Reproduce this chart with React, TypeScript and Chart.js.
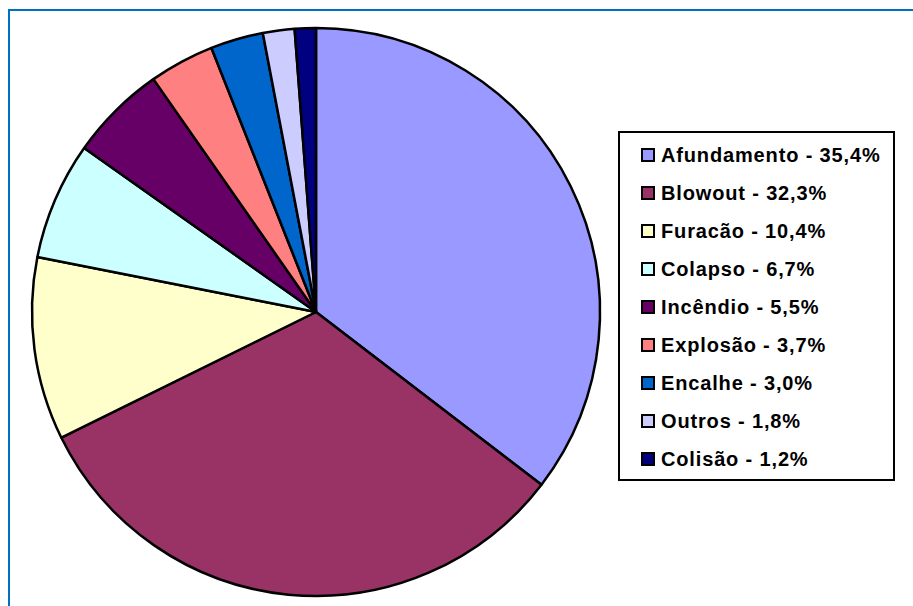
import React, { useEffect, useRef } from "react";
import { Chart, registerables } from "chart.js";

Chart.register(...registerables);

const categories = ["Afundamento", "Blowout", "Furacão", "Colapso", "Incêndio", "Explosão", "Encalhe", "Outros", "Colisão"];
const values = [35.4, 32.3, 10.4, 6.7, 5.5, 3.7, 3.0, 1.8, 1.2];
const colors = ["#9999FF", "#993366", "#FFFFCC", "#CCFFFF", "#660066", "#FF8080", "#0066CC", "#CCCCFF", "#000080"];

const fmt = (v: number) => v.toFixed(1).replace(".", ",") + "%";

export default function App() {
  const ref = useRef<HTMLCanvasElement | null>(null);

  useEffect(() => {
    if (!ref.current) return;
    const chart = new Chart(ref.current, {
      type: "pie",
      data: {
        labels: categories,
        datasets: [
          {
            data: values,
            backgroundColor: colors,
            borderColor: "#000000",
            borderWidth: 2.5,
          },
        ],
      },
      options: {
        responsive: false,
        animation: false,
        radius: 284,
        layout: { padding: { left: 20, right: 301, top: 20, bottom: 2 } },
        plugins: {
          legend: { display: false },
          tooltip: { enabled: false },
        },
      } as any,
    });
    return () => chart.destroy();
  }, []);

  return (
    <div style={{ position: "fixed", left: 0, top: 0, width: 913, height: 606, background: "#fff", overflow: "hidden" }}>
      <div style={{ position: "absolute", left: 8, top: 9, width: 905, height: 2, background: "#0070C0" }} />
      <div style={{ position: "absolute", left: 8, top: 9, width: 2, height: 597, background: "#0070C0" }} />
      <canvas ref={ref} width={913} height={606} style={{ position: "absolute", left: 0, top: 0 }} />
      <div
        style={{
          position: "absolute",
          left: 618,
          top: 131,
          width: 277,
          height: 350,
          border: "2px solid #000",
          boxSizing: "border-box",
          background: "#fff",
          fontFamily: "'Liberation Sans', Arial, sans-serif",
          fontWeight: "bold",
          fontSize: 20,
          letterSpacing: "0.85px",
          color: "#000",
        }}
      >
        {categories.map((c, i) => (
          <div key={c} style={{ position: "absolute", left: 21, top: 24 - 14 + i * 38, height: 24, display: "flex", alignItems: "center", whiteSpace: "nowrap" }}>
            <span style={{ display: "inline-block", width: 10, height: 10, border: "2px solid #000", background: colors[i], marginRight: 6 }} />
            <span>{c + " - " + fmt(values[i])}</span>
          </div>
        ))}
      </div>
    </div>
  );
}
